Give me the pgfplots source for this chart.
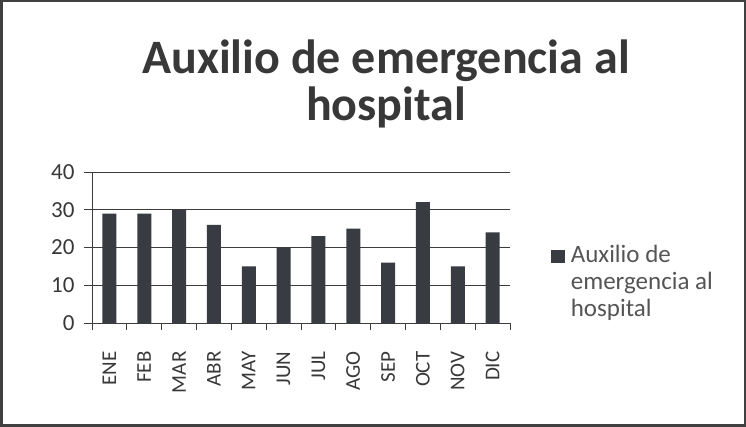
\documentclass[border=0pt]{standalone}
\usepackage{pgfplots}
\pgfplotsset{compat=1.18}
\usepackage{fontspec}
\setmainfont{Carlito}
\definecolor{barc}{HTML}{383B42}
\definecolor{gridc}{HTML}{3C3C3C}
\definecolor{textc}{HTML}{383838}
\definecolor{legc}{HTML}{555555}
\begin{document}
\begin{tikzpicture}
% frame of the chart area
\fill[white] (0pt,0pt) rectangle (746pt,427pt);
\draw[line width=2.5pt, black!75] (1.25pt,1.25pt) rectangle (744.75pt,425.75pt);
\node[font=\bfseries\fontsize{48}{47}\selectfont, text=textc, align=center]
  at (386pt,343pt) {Auxilio de emergencia al\\hospital};
\begin{axis}[
  at={(92pt,104pt)}, anchor=south west,
  width=418pt, height=151pt, scale only axis,
  ymin=0, ymax=40, ytick={0,10,...,40},
  xmin=-0.5, xmax=11.5,
  xtick={0,...,11},
  xticklabels={ENE,FEB,MAR,ABR,MAY,JUN,JUL,AGO,SEP,OCT,NOV,DIC},
  minor xtick={-0.5,0.5,...,11.5},
  x tick label style={rotate=90, anchor=east, font=\fontsize{21}{23}\selectfont, text=textc},
  y tick label style={font=\fontsize{23}{25}\selectfont, text=textc},
  xticklabel shift=17pt, yticklabel shift=6pt,
  /pgf/number format/assume math mode=true,
  major x tick style={draw=none},
  minor tick length=7pt, major tick length=8pt,
  tick align=outside, tick pos=left,
  tick style={gridc, line width=0.8pt},
  axis x line*=bottom, axis y line*=left,
  axis line style={gridc, line width=0.8pt, -},
  ymajorgrids, grid style={gridc, line width=0.9pt},
  ybar, bar width=14pt,
  legend cell align=left,
  legend style={at={(1.09,0.275)}, anchor=west, draw=none, fill=none,
    font=\fontsize{25}{27}\selectfont, text=legc,
    nodes={align=left},
    /tikz/every odd column/.style={column sep=4pt}},
  legend image code/.code={%
    \fill[barc, draw=none] (0pt,18pt) rectangle (14pt,31pt);},
]
\addplot[fill=barc, draw=none] coordinates {
  (0,29) (1,29) (2,30) (3,26) (4,15) (5,20)
  (6,23) (7,25) (8,16) (9,32) (10,15) (11,24)
};
\addlegendentry{Auxilio de\\emergencia al\\hospital}
\end{axis}
\end{tikzpicture}
\end{document}
